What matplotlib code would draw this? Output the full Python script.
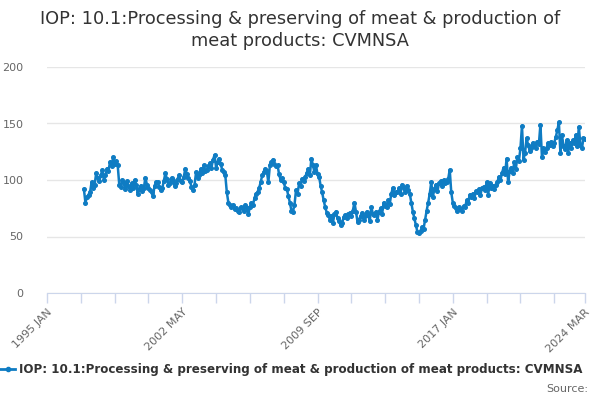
import numpy as np
import matplotlib.pyplot as plt

months = ['JAN', 'FEB', 'MAR', 'APR', 'MAY', 'JUN',
          'JUL', 'AUG', 'SEP', 'OCT', 'NOV', 'DEC']
categories = [f'{y} {m}' for y in range(1995, 2025) for m in months][:351]  # 1995 JAN .. 2024 MAR

# 1995-1996 have no data
values = [None] * 24 + [
    92, 80, 85, 87, 89, 98, 93, 96, 106, 102, 99, 104,        # 1997
    109, 100, 104, 110, 108, 116, 112, 120, 114, 117, 113, 96,  # 1998
    94, 100, 97, 92, 99, 95, 91, 97, 93, 100, 96, 88,         # 1999
    92, 95, 90, 93, 102, 96, 93, 91, 89, 86, 95, 98,          # 2000
    98, 94, 91, 93, 99, 106, 101, 96, 97, 102, 100, 95,       # 2001
    97, 101, 104, 99, 98, 103, 110, 105, 102, 99, 94, 91,     # 2002
    96, 107, 102, 104, 110, 106, 113, 108, 109, 112, 115, 111,  # 2003
    118, 122, 111, 116, 119, 114, 109, 107, 104, 89, 80, 78,  # 2004
    76, 78, 74, 75, 73, 72, 76, 75, 73, 78, 75, 70,           # 2005
    76, 80, 78, 84, 88, 89, 93, 98, 104, 107, 110, 108,       # 2006
    98, 113, 116, 118, 114, 112, 113, 105, 100, 102, 98, 93,  # 2007
    92, 86, 80, 73, 72, 78, 91, 88, 97, 95, 101, 99,          # 2008
    103, 106, 110, 104, 119, 113, 107, 113, 105, 103, 95, 89,  # 2009
    82, 76, 71, 69, 65, 68, 62, 70, 72, 66, 64, 60,           # 2010
    62, 67, 69, 66, 70, 71, 68, 73, 80, 72, 63, 65,           # 2011
    68, 71, 65, 68, 72, 69, 64, 76, 70, 69, 72, 65,           # 2012
    72, 75, 70, 80, 77, 76, 82, 79, 88, 93, 87, 89,           # 2013
    89, 93, 88, 96, 93, 89, 95, 91, 88, 80, 72, 66,           # 2014
    60, 54, 53, 55, 58, 57, 65, 73, 80, 88, 98, 85,           # 2015
    92, 96, 90, 97, 99, 95, 100, 97, 98, 101, 109, 89,        # 2016
    80, 77, 75, 73, 76, 74, 73, 77, 76, 82, 80, 87,           # 2017
    85, 88, 84, 90, 89, 92, 87, 93, 94, 91, 98, 87,           # 2018
    97, 93, 95, 92, 96, 98, 103, 100, 106, 111, 105, 119,     # 2019
    98, 108, 111, 106, 116, 110, 120, 117, 128, 148, 118, 124,  # 2020
    137, 131, 126, 128, 133, 130, 128, 134, 132, 149, 120, 128,  # 2021
    125, 128, 133, 131, 134, 130, 133, 138, 144, 151, 124, 140,  # 2022
    130, 127, 135, 124, 133, 128, 135, 133, 140, 130, 147, 131,  # 2023
    128, 137, 136,                                            # 2024
]

series_name = 'IOP: 10.1:Processing & preserving of meat & production of meat products: CVMNSA'
y_ticks = [0, 50, 100, 150, 200]

blue = '#0f7cc3'
grey = '#666666'
axis_col = '#ccd6eb'

xs = np.arange(len(categories))
ys = np.array([np.nan if v is None else v for v in values], dtype=float)

fig = plt.figure(figsize=(6, 4), dpi=100)
ax = fig.add_axes([47 / 600, 107 / 400, 538 / 600, 226 / 400])

ax.plot(xs, ys, color=blue, lw=1.8, marker='o', ms=2.6, mec=blue, mfc=blue)

ax.set_xlim(0, len(categories) - 1)
ax.set_ylim(0, 200)
ax.set_yticks(y_ticks)
ax.yaxis.grid(True, color='#e6e6e6', lw=1)
ax.set_axisbelow(True)
ax.tick_params(axis='y', length=0, pad=17, labelsize=8, labelcolor=grey)

tick_pos = list(range(0, len(categories) - 1, 22)) + [len(categories) - 1]
tick_lab = [categories[p] if (p % 88 == 0 or p == len(categories) - 1) else '' for p in tick_pos]
ax.set_xticks(tick_pos)
ax.set_xticklabels(tick_lab, rotation=45, ha='right', va='top', rotation_mode='anchor')
ax.tick_params(axis='x', length=7, width=1, color=axis_col, labelsize=8, labelcolor=grey, pad=3)

for s in ['top', 'right', 'left']:
    ax.spines[s].set_visible(False)
ax.spines['bottom'].set_color(axis_col)

fig.text(0.5, 1 - 30 / 400, 'IOP: 10.1:Processing & preserving of meat & production of\nmeat products: CVMNSA',
         ha='center', va='center', fontsize=12.8, color='#333333', linespacing=1.3)

# legend drawn by hand so it sits flush to the left edge like the original
fig.lines.append(plt.Line2D([0, 7.5 / 600, 15 / 600], [1 - 369 / 400] * 3, transform=fig.transFigure,
                            color=blue, lw=2, marker='o', ms=3, markevery=[1]))
fig.text(19 / 600, 1 - 369 / 400, series_name, ha='left', va='center',
         fontsize=8.6, fontweight='bold', color='#333333')
fig.text(588 / 600, 1 - 389 / 400, 'Source:', ha='right', va='center', fontsize=8, color=grey)

fig.savefig('out.png', dpi=100)
